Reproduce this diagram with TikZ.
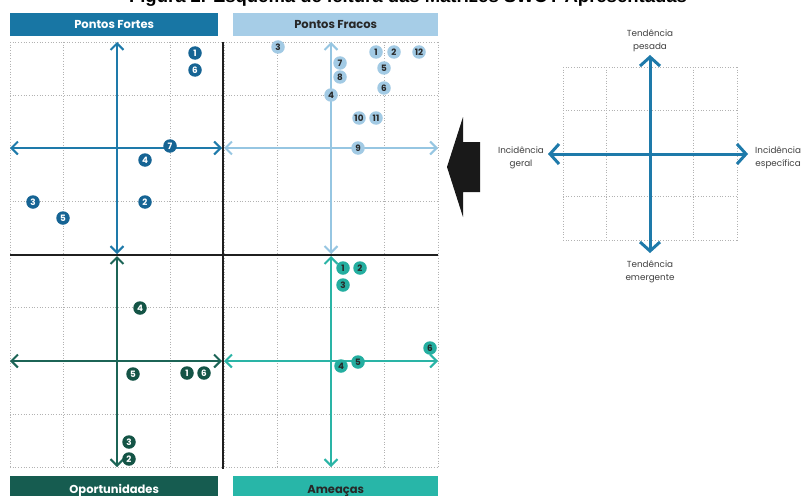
\documentclass[tikz,border=0pt]{standalone}
\usepackage{fontspec}
\setmainfont{Poppins}
\newfontfamily\titlefont{Liberation Sans}
\usetikzlibrary{arrows.meta}
\definecolor{cFortes}{RGB}{24,118,164}
\definecolor{cFracos}{RGB}{166,205,231}
\definecolor{cOport}{RGB}{22,92,80}
\definecolor{cAmea}{RGB}{40,182,168}
\definecolor{aTL}{RGB}{30,122,170}
\definecolor{aTR}{RGB}{150,198,226}
\definecolor{aBL}{RGB}{28,100,86}
\definecolor{aBR}{RGB}{42,180,166}
\definecolor{dTL}{RGB}{22,100,148}
\definecolor{dTR}{RGB}{162,202,228}
\definecolor{dBL}{RGB}{20,84,70}
\definecolor{dBR}{RGB}{36,174,160}
\definecolor{txtdark}{RGB}{40,40,40}
\begin{document}
\begin{tikzpicture}[x=1pt,y=-1pt,
  gridline/.style={draw=black!30, dotted, line width=0.7pt},
  blackline/.style={draw=black!88, line width=2.6pt},
  axis/.style={line width=2pt, {Straight Barb[length=6.5pt,width=13pt,line width=2pt]}-{Straight Barb[length=6.5pt,width=13pt,line width=2pt]}},
  bigaxis/.style={draw=aTL, line width=3pt, {Straight Barb[length=9pt,width=20pt,line width=3pt]}-{Straight Barb[length=9pt,width=20pt,line width=3pt]}},
  header/.style={inner sep=0pt, anchor=north west, font=\bfseries\fontsize{11.5}{12}\selectfont},
  num/.style={circle, inner sep=0.6pt, minimum size=13.5pt, font=\bfseries\fontsize{8.8}{9}\selectfont},
  nTL/.style={num, fill=dTL, text=white},
  nTR/.style={num, fill=dTR, text=txtdark},
  nBL/.style={num, fill=dBL, text=white},
  nBR/.style={num, fill=dBR, text=txtdark},
  lab/.style={align=center, font=\fontsize{8.8}{13}\selectfont, text=black!75},
]
\useasboundingbox (0,0) rectangle (802,495);
\fill[white] (0,0) rectangle (802,495);

% title (cut at top)
\node[anchor=base, inner sep=0pt, font=\titlefont\bfseries\fontsize{18.5}{18.5}\selectfont] (title) at (408,3) {Figura 2. Esquema de leitura das Matrizes SWOT Apresentadas};

% headers
\node[header, fill=cFortes, text=white, minimum width=208pt, minimum height=23pt] (hF) at (10,13) {Pontos Fortes};
\node[header, fill=cFracos, text=txtdark, minimum width=205pt, minimum height=23pt] (hW) at (233,13) {Pontos Fracos};
\node[header, fill=cOport, text=white, minimum width=208pt, minimum height=29pt] (hO) at (10,476) {Oportunidades};
\node[header, fill=cAmea, text=txtdark, minimum width=205pt, minimum height=29pt] (hA) at (233,476) {Ameaças};

% main grid
\foreach \i in {0,...,8} \draw[gridline] (10+53.5*\i,42) -- (10+53.5*\i,467);
\foreach \j in {0,...,8} \draw[gridline] (10,42+53.125*\j) -- (438,42+53.125*\j);

% black separators
\coordinate (vT) at (223,42); \coordinate (vB) at (223,469);
\coordinate (hL) at (10,255); \coordinate (hR) at (438,255);
\draw[blackline] (vT) -- (vB);
\draw[blackline] (hL) -- (hR);

% axis coordinates
\coordinate (tlN) at (117,42);  \coordinate (tlS) at (117,254);
\coordinate (tlW) at (10,148);  \coordinate (tlE) at (222,148);
\coordinate (trN) at (331,42);  \coordinate (trS) at (331,254);
\coordinate (trW) at (224,148); \coordinate (trE) at (438,148);
\coordinate (blN) at (117,256); \coordinate (blS) at (117,467);
\coordinate (blW) at (10,361);  \coordinate (blE) at (222,361);
\coordinate (brN) at (331,256); \coordinate (brS) at (331,467);
\coordinate (brW) at (224,361); \coordinate (brE) at (438,361);

\draw[axis, draw=aTR] (trN) -- (trS);
\draw[axis, draw=aTR] (trW) -- (trE);
\draw[axis, draw=aTL] (tlN) -- (tlS);
\draw[axis, draw=aTL] (tlW) -- (tlE);
\draw[axis, draw=aBL] (blN) -- (blS);
\draw[axis, draw=aBL] (blW) -- (blE);
\draw[axis, draw=aBR] (brN) -- (brS);
\draw[axis, draw=aBR] (brW) -- (brE);

% Pontos Fortes
\node[nTL] (f1) at (195,53) {1};
\node[nTL] (f6) at (195,70) {6};
\node[nTL] (f7) at (170,146) {7};
\node[nTL] (f4) at (145,160) {4};
\node[nTL] (f3) at (33,202) {3};
\node[nTL] (f2) at (145,202) {2};
\node[nTL] (f5) at (63,218) {5};

% Pontos Fracos
\node[nTR] (w3) at (278,47) {3};
\node[nTR] (w1) at (376,52) {1};
\node[nTR] (w2) at (394,52) {2};
\node[nTR] (w12) at (419,52) {12};
\node[nTR] (w7) at (340,63) {7};
\node[nTR] (w5) at (384,68) {5};
\node[nTR] (w8) at (340,77) {8};
\node[nTR] (w6) at (384,88) {6};
\node[nTR] (w4) at (331,95) {4};
\node[nTR] (w10) at (359,118) {10};
\node[nTR] (w11) at (376,118) {11};
\node[nTR] (w9) at (358,148) {9};

% Oportunidades
\node[nBL] (o4) at (140,308) {4};
\node[nBL] (o5) at (133,374) {5};
\node[nBL] (o1) at (187,373) {1};
\node[nBL] (o6) at (204,373) {6};
\node[nBL] (o3) at (129,442) {3};
\node[nBL] (o2) at (129,459) {2};

% Ameacas
\node[nBR] (a1) at (343,268) {1};
\node[nBR] (a2) at (360,268) {2};
\node[nBR] (a3) at (343,285) {3};
\node[nBR] (a6) at (430,348) {6};
\node[nBR] (a4) at (341,366) {4};
\node[nBR] (a5) at (358,362) {5};

% big black arrow
\fill[black!90] (447,167) -- (463,117) -- (463,142) -- (480,142) -- (480,192) -- (463,192) -- (463,217) -- cycle;

% legend grid
\foreach \i in {0,...,4} \draw[gridline] (563+43.5*\i,67) -- (563+43.5*\i,240);
\foreach \j in {0,...,4} \draw[gridline] (563,67+43.25*\j) -- (737,67+43.25*\j);
\coordinate (lN) at (650,55); \coordinate (lS) at (650,253);
\coordinate (lW) at (548,154); \coordinate (lE) at (748,154);
\draw[bigaxis] (lN) -- (lS);
\draw[bigaxis] (lW) -- (lE);

\node[lab] (tpes) at (650,41) {Tendência\\pesada};
\node[lab] (temg) at (650,271.5) {Tendência\\emergente};
\node[lab] (igeral) at (521,158) {Incidência\\geral};
\node[lab, anchor=west, inner sep=0pt] (iesp) at (755,158) {Incidência\\específica};
\end{tikzpicture}
\end{document}
